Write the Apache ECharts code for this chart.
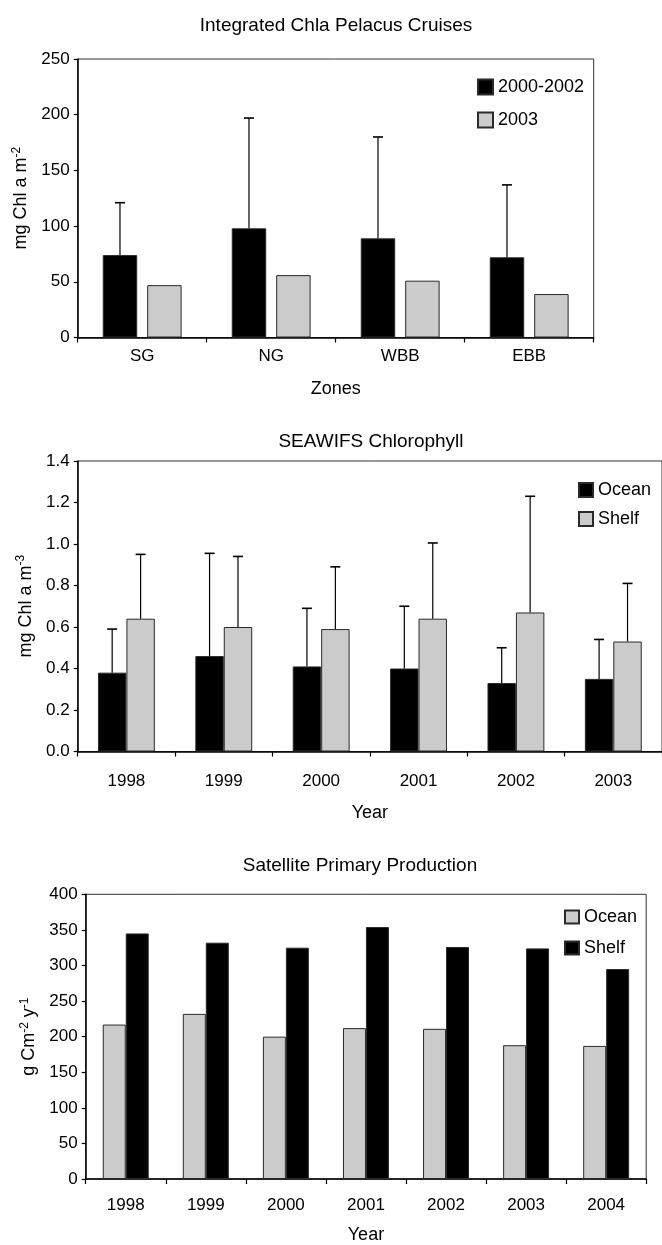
<!DOCTYPE html>
<html>
<head>
<meta charset="utf-8">
<script src="https://cdn.jsdelivr.net/npm/echarts@6/dist/echarts.min.js"></script>
<style>
  html, body { margin: 0; padding: 0; background: #fff; }
  #chart { width: 662px; height: 1245px; }
</style>
</head>
<body>
<div id="chart"></div>
<script>
// ---- Panel 1: integrated chlorophyll from the Pelacus cruises ----
const zones = ['SG', 'NG', 'WBB', 'EBB'];
const cruise0002 = [74, 98, 89, 72];       // mg Chl a m-2, 2000-2002 mean
const cruise0002SD = [47, 99, 91, 65];     // upper error bar length
const cruise2003 = [47, 56, 51, 39];       // mg Chl a m-2, 2003

// ---- Panel 2: SeaWiFS chlorophyll ----
const seawifsYears = ['1998', '1999', '2000', '2001', '2002', '2003'];
const seawifsOcean = [0.38, 0.46, 0.41, 0.40, 0.33, 0.35];
const seawifsOceanSD = [0.21, 0.495, 0.28, 0.30, 0.17, 0.19];
const seawifsShelf = [0.64, 0.60, 0.59, 0.64, 0.67, 0.53];
const seawifsShelfSD = [0.31, 0.34, 0.30, 0.365, 0.56, 0.28];

// ---- Panel 3: satellite primary production ----
const ppYears = ['1998', '1999', '2000', '2001', '2002', '2003', '2004'];
const ppOcean = [217, 232, 200, 212, 211, 188, 187];
const ppShelf = [345, 332, 325, 354, 326, 324, 295];

const FONT = '"Liberation Sans", Arial, Helvetica, sans-serif';
const BLACK = '#000000';
const GREY = '#cbcbcb';
const EDGE = '#2a2a2a';

// error bar rows: [category index, bar value, bar value + sd]
function errRows(vals, sds) {
  return vals.map((v, i) => [i, v, v + sds[i]]);
}

// draws a vertical whisker with a cap above a bar; shift is the bar's
// offset from the category centre as a fraction of the band width
function whisker(shift) {
  return function (params, api) {
    const i = api.value(0);
    const base = api.coord([i, api.value(1)]);
    const tip = api.coord([i, api.value(2)]);
    const band = api.size([1, 0])[0];
    const x = base[0] + band * shift;
    const cap = 5;
    return {
      type: 'group',
      children: [
        { type: 'line', shape: { x1: x, y1: base[1], x2: x, y2: tip[1] },
          style: { stroke: '#000', lineWidth: 1.2 } },
        { type: 'line', shape: { x1: x - cap, y1: tip[1], x2: x + cap, y2: tip[1] },
          style: { stroke: '#000', lineWidth: 1.6 } }
      ]
    };
  };
}

const axisBase = {
  axisLine: { show: true, lineStyle: { color: '#000', width: 1.5 } },
  axisTick: { show: true, inside: false, lineStyle: { color: '#000', width: 1.2 } },
  axisLabel: { color: '#000', fontSize: 17, fontFamily: FONT },
  nameTextStyle: { color: '#000', fontSize: 18, fontFamily: FONT },
  splitLine: { show: false }
};

function xCat(gridIndex, data, labelMargin, nameGap) {
  return Object.assign({}, axisBase, {
    type: 'category', gridIndex, data,
    axisTick: Object.assign({}, axisBase.axisTick, { length: 5 }),
    axisLabel: Object.assign({}, axisBase.axisLabel, { margin: labelMargin }),
    name: 'Year', nameLocation: 'middle', nameGap
  });
}

function yVal(gridIndex, max, interval, richName, nameGap, decimals) {
  return Object.assign({}, axisBase, {
    type: 'value', gridIndex, min: 0, max, interval,
    axisTick: Object.assign({}, axisBase.axisTick, { length: 4 }),
    axisLabel: Object.assign({}, axisBase.axisLabel, {
      margin: 8,
      formatter: v => decimals ? v.toFixed(decimals) : String(v)
    }),
    name: richName, nameLocation: 'middle', nameRotate: 90, nameGap,
    nameTextStyle: {
      color: '#000', fontFamily: FONT,
      rich: {
        a: { fontSize: 18, fontFamily: FONT, color: '#000', lineHeight: 22 },
        s: { fontSize: 12, fontFamily: FONT, color: '#000', lineHeight: 12, verticalAlign: 'top' }
      }
    }
  });
}

const legendBase = {
  orient: 'vertical',
  icon: 'rect',
  padding: 0,
  textStyle: { color: '#000', fontSize: 18, fontFamily: FONT },
  formatter: name => name.replace(' PP', '')
};

const titleStyle = { color: '#000', fontSize: 19, fontWeight: 'normal', fontFamily: FONT };

const option = {
  animation: false,
  backgroundColor: '#ffffff',
  title: [
    { text: 'Integrated Chla Pelacus Cruises', left: 336, top: 16, padding: 0, textAlign: 'center', textStyle: titleStyle },
    { text: 'SEAWIFS Chlorophyll', left: 371, top: 432, padding: 0, textAlign: 'center', textStyle: titleStyle },
    { text: 'Satellite Primary Production', left: 360, top: 856, padding: 0, textAlign: 'center', textStyle: titleStyle }
  ],
  legend: [
    Object.assign({}, legendBase, {
      data: ['2000-2002', '2003'], left: 477, top: 78,
      itemWidth: 15, itemHeight: 15, itemGap: 15,
      textStyle: Object.assign({}, legendBase.textStyle, { lineHeight: 15 })
    }),
    Object.assign({}, legendBase, {
      data: ['Ocean', 'Shelf'], left: 578, top: 481,
      itemWidth: 14, itemHeight: 14, itemGap: 11,
      textStyle: Object.assign({}, legendBase.textStyle, { lineHeight: 14 })
    }),
    Object.assign({}, legendBase, {
      data: ['Ocean PP', 'Shelf PP'], left: 564, top: 908,
      itemWidth: 14, itemHeight: 13, itemGap: 13,
      textStyle: Object.assign({}, legendBase.textStyle, { lineHeight: 13 })
    })
  ],
  grid: [
    { left: 77.7, top: 59, width: 516, height: 278.5, show: true, borderColor: '#333', borderWidth: 1 },
    { left: 77.7, top: 461, width: 585.6, height: 290.5, show: true, borderColor: '#333', borderWidth: 1 },
    { left: 85.7, top: 894.3, width: 560.5, height: 290.3, show: true, borderColor: '#333', borderWidth: 1 }
  ],
  xAxis: [
    Object.assign(xCat(0, zones, 10, 43), { name: 'Zones' }),
    xCat(1, seawifsYears, 21, 53),
    xCat(2, ppYears, 18, 47)
  ],
  yAxis: [
    yVal(0, 250, 50, '{a|mg Chl a m}{s|-2}', 39, 0),
    yVal(1, 1.4, 0.2, '{a|mg Chl a m}{s|-3}', 36, 1),
    yVal(2, 400, 50, '{a|g Cm}{s|-2}{a| y}{s|-1}', 42, 0)
  ],
  series: [
    // panel 1
    { name: '2000-2002', type: 'bar', xAxisIndex: 0, yAxisIndex: 0, data: cruise0002,
      barWidth: '26.7%', barGap: '29%',
      itemStyle: { color: BLACK, borderColor: EDGE, borderWidth: 1 } },
    { name: '2003', type: 'bar', xAxisIndex: 0, yAxisIndex: 0, data: cruise2003,
      barWidth: '26.7%', barGap: '29%',
      itemStyle: { color: GREY, borderColor: EDGE, borderWidth: 1 } },
    { type: 'custom', xAxisIndex: 0, yAxisIndex: 0, z: 5,
      renderItem: whisker(-0.267 * 1.29 / 2),
      encode: { x: 0, y: [1, 2] }, data: errRows(cruise0002, cruise0002SD) },

    // panel 2
    { name: 'Ocean', type: 'bar', xAxisIndex: 1, yAxisIndex: 1, data: seawifsOcean,
      barWidth: '29.2%', barGap: '0%',
      itemStyle: { color: BLACK, borderColor: EDGE, borderWidth: 1 } },
    { name: 'Shelf', type: 'bar', xAxisIndex: 1, yAxisIndex: 1, data: seawifsShelf,
      barWidth: '29.2%', barGap: '0%',
      itemStyle: { color: GREY, borderColor: EDGE, borderWidth: 1 } },
    { type: 'custom', xAxisIndex: 1, yAxisIndex: 1, z: 5,
      renderItem: whisker(-0.292 / 2),
      encode: { x: 0, y: [1, 2] }, data: errRows(seawifsOcean, seawifsOceanSD) },
    { type: 'custom', xAxisIndex: 1, yAxisIndex: 1, z: 5,
      renderItem: whisker(0.292 / 2),
      encode: { x: 0, y: [1, 2] }, data: errRows(seawifsShelf, seawifsShelfSD) },

    // panel 3
    { name: 'Ocean PP', type: 'bar', xAxisIndex: 2, yAxisIndex: 2, data: ppOcean,
      barWidth: '28.7%', barGap: '0%',
      itemStyle: { color: GREY, borderColor: EDGE, borderWidth: 1 } },
    { name: 'Shelf PP', type: 'bar', xAxisIndex: 2, yAxisIndex: 2, data: ppShelf,
      barWidth: '28.7%', barGap: '0%',
      itemStyle: { color: BLACK, borderColor: EDGE, borderWidth: 1 } }
  ]
};

const chart = echarts.init(document.getElementById('chart'), null, { renderer: 'canvas' });
chart.setOption(option);
</script>
</body>
</html>
